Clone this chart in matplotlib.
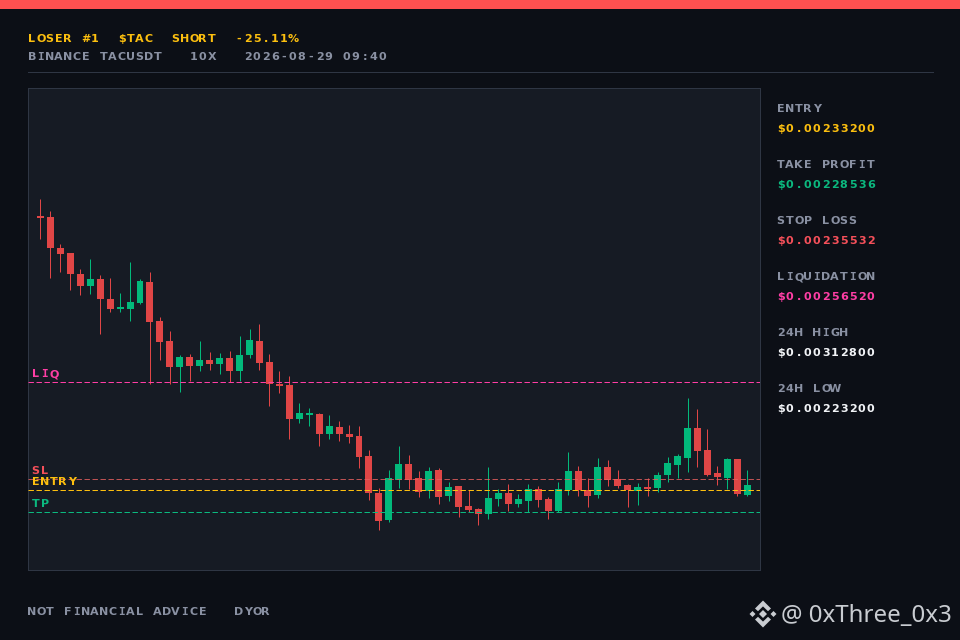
import copy
import matplotlib
matplotlib.use("Agg")
import matplotlib.pyplot as plt
import matplotlib.transforms as mtrans
from matplotlib.text import Text
from matplotlib.patches import Polygon, Rectangle
from matplotlib.transforms import Affine2D, Bbox

# ---- data (prices in USDT, x 1e-6 for the candle arrays) ----
opens = [2924,2922,2855,2845,2799,2773,2788,2745,2724,2724,2737,2782,2698,2654,2598,2620,2600,2613,2605,2618,
         2590,2624,2654,2609,2562,2559,2486,2495,2497,2454,2469,2454,2449,2406,2326,2268,2354,2389,2358,2330,
         2376,2320,2341,2298,2292,2281,2313,2326,2302,2309,2335,2313,2287,2333,2374,2333,2322,2382,2356,2343,
         2330,2339,2337,2365,2386,2402,2467,2419,2369,2358,2400,2322]
highs = [2961,2935,2864,2845,2810,2832,2797,2791,2758,2825,2788,2804,2706,2676,2624,2626,2654,2631,2629,2633,
         2665,2680,2691,2626,2590,2579,2521,2510,2499,2495,2482,2473,2471,2419,2337,2376,2428,2408,2374,2382,
         2380,2350,2341,2333,2294,2382,2335,2346,2324,2346,2341,2317,2350,2415,2384,2358,2402,2397,2376,2346,
         2348,2358,2371,2404,2410,2531,2508,2463,2384,2402,2400,2376]
lows = [2875,2791,2804,2765,2754,2756,2670,2717,2717,2698,2734,2562,2613,2562,2544,2568,2590,2592,2583,2566,
        2568,2618,2592,2514,2542,2443,2478,2471,2428,2443,2437,2434,2380,2311,2246,2264,2337,2335,2317,2315,
        2302,2309,2274,2285,2257,2270,2298,2287,2296,2285,2296,2270,2285,2322,2320,2296,2315,2341,2337,2296,
        2300,2320,2328,2350,2358,2371,2382,2363,2343,2335,2320,2320]
closes = [2920,2855,2842,2799,2773,2788,2745,2724,2728,2739,2784,2695,2652,2598,2620,2600,2613,2605,2618,2590,
          2624,2657,2607,2562,2557,2486,2499,2499,2454,2471,2454,2447,2404,2326,2266,2358,2389,2354,2328,2374,
          2317,2339,2296,2289,2281,2315,2326,2302,2313,2335,2311,2287,2335,2374,2333,2320,2382,2354,2341,2333,
          2339,2335,2365,2391,2406,2467,2417,2365,2361,2400,2324,2343]
ENTRY = 0.00233200
TP = 0.00228536
SL = 0.00235532
LIQ = 0.00256520
stat_labels = ["ENTRY", "TAKE PROFIT", "STOP LOSS", "LIQUIDATION", "24H HIGH", "24H LOW"]
stat_values = ["$0.00233200", "$0.00228536", "$0.00235532", "$0.00256520", "$0.00312800", "$0.00223200"]
title_text = "LOSER #1  $TAC  SHORT  -25.11%"
sub_text = "BINANCE TACUSDT   10X   2026-08-29 09:40"
foot_text = "NOT FINANCIAL ADVICE   DYOR"
handle_text = "@ 0xThree_0x3"

# ---- style ----
BG = "#0c0f16"
PANEL = "#161b24"
EDGE = "#2f3644"
GRAY = "#8a91a3"
GOLD = "#fcbf0f"
GREEN = "#0bb97f"
RED = "#f6505a"
CANDLE_RED = "#e04646"
CANDLE_GREEN = "#02b97b"
PINK = "#ff3ea5"
WHITE = "#f2f4f7"
plt.rcParams["lines.scale_dashes"] = False


class TrackedText(Text):
    """One text object drawn with a fixed pixel cell per character, glyphs centred."""

    def __init__(self, x, y, s, advance=9.0, **kw):
        super().__init__(x, y, s, **kw)
        self.advance = advance

    def _origin(self):
        return self.get_transform().transform(self.get_position())

    def get_window_extent(self, renderer=None, dpi=None):
        x0, y0 = self._origin()
        return Bbox([[x0, y0], [x0 + self.advance * len(self.get_text()), y0 + 8]])

    def draw(self, renderer):
        if not self.get_visible():
            return
        x0, y0 = self._origin()
        gc = renderer.new_gc()
        gc.set_foreground(self.get_color())
        gc.set_alpha(1.0)
        fp = self.get_fontproperties()
        serif_fp = copy.copy(fp)
        serif_fp.set_family("DejaVu Sans Mono")
        canvas_h = renderer.get_canvas_width_height()[1]
        for i, ch in enumerate(self.get_text()):
            if ch != " ":
                use = serif_fp if ch == "I" else fp
                w = renderer.get_text_width_height_descent(ch, use, False)[0]
                cell = x0 + i * self.advance
                renderer.draw_text(gc, cell + (8.0 - w) / 2 - 0.3, canvas_h - y0, ch, use, 0, False)
        gc.restore()


fig = plt.figure(figsize=(9.6, 6.4), dpi=100, facecolor=BG)
W, H = 960, 640
px = Affine2D().scale(1, -1).translate(0, H)   # figure pixels, y down


def label(x, y, s, color, transform=px, size=8.0):
    t = TrackedText(x, y, s, color=color, family="DejaVu Sans", weight="bold",
                    fontsize=size, transform=transform)
    fig.add_artist(t)
    return t


fig.add_artist(Rectangle((0, 0), W, 9, transform=px, facecolor="#ff5050", edgecolor="none"))
label(28, 41.5, title_text, GOLD)
label(28, 59.5, sub_text, GRAY)
fig.add_artist(plt.Line2D([28, 933], [71.9, 71.9], transform=px, color=EDGE, lw=0.72))

# ---- chart ----
ax = fig.add_axes([28.0 / W, 1 - 570 / H, 732 / W, 482 / H], facecolor=PANEL)
ax.set_xlim(-1.25, 72.28)
ax.set_ylim(0.00215942, 0.00320057)
ax.set_xticks([])
ax.set_yticks([])
for sp in ax.spines.values():
    sp.set_color(EDGE)
    sp.set_linewidth(0.72)

levels = [(LIQ, PINK, "LIQ", 1.0), (SL, "#e8605f", "SL", 0.8), (ENTRY, GOLD, "ENTRY", 1.0), (TP, GREEN, "TP", 1.0)]

for i, (o, h, l, c) in enumerate(zip(opens, highs, lows, closes)):
    col = CANDLE_GREEN if c >= o else CANDLE_RED
    ax.vlines(i, l * 1e-6, h * 1e-6, color=col, lw=0.72, zorder=2, snap=True)
    ax.bar(i, abs(c - o) * 1e-6, bottom=min(o, c) * 1e-6, width=0.70, color=col, linewidth=0, zorder=3)

offset = mtrans.offset_copy(ax.get_yaxis_transform(), fig=fig, y=5, units="dots")
for price, col, name, alpha in levels:
    ax.axhline(price, color=col, lw=0.72, ls=(0, (3.9, 1.86)), alpha=alpha, zorder=4, snap=True)
    label(4 / 732, price, name, RED if name == "SL" else col, transform=offset)

# ---- right column ----
stat_colors = [GOLD, GREEN, RED, PINK, WHITE, WHITE]
for i, (lab, val, col) in enumerate(zip(stat_labels, stat_values, stat_colors)):
    label(777, 112 + 56 * i, lab, GRAY)
    label(777, 132 + 56 * i, val, col)

label(28, 615, foot_text, GRAY)

# ---- watermark ----
LOGO = "#c9ccd1"
cx, cy = 763, 614
shapes = [
    [(0, -4), (4, 0), (0, 4), (-4, 0)],
    [(-13.5, 0), (-10.5, -3), (-7.5, 0), (-10.5, 3)],
    [(13.5, 0), (10.5, -3), (7.5, 0), (10.5, 3)],
    [(0, -13.5), (8, -5.5), (5, -2.8), (0, -7.6), (-5, -2.8), (-8, -5.5)],
    [(0, 13.5), (8, 5.5), (5, 2.8), (0, 7.6), (-5, 2.8), (-8, 5.5)],
]
for pts in shapes:
    fig.add_artist(Polygon([(cx + a, cy + b) for a, b in pts], closed=True, transform=px,
                           facecolor=LOGO, edgecolor="none"))
fig.text(951.5 / W, 1 - 622 / H, handle_text, color=LOGO, family="Noto Sans", fontsize=17.3,
         ha="right", va="baseline")

fig.savefig("out.png", dpi=100, facecolor=BG)
